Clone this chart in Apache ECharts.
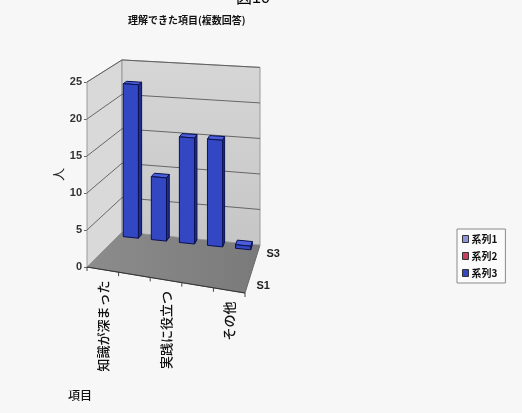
<!DOCTYPE html>
<html><head><meta charset="utf-8">
<script src="https://cdn.jsdelivr.net/npm/echarts@6/dist/echarts.min.js"></script>
<style>html,body{margin:0;padding:0;background:#f7f7f7}#c{width:522px;height:413px}</style>
</head><body><div id="c"></div>
<script>
// ---- data ----
const figureLabel = '図10';
const chartTitle = '理解できた項目(複数回答)';
const categories = ['知識が深まった', '興味がわいた', '実践に役立つ', '自信がついた', 'その他'];
const seriesNames = ['系列1', '系列2', '系列3'];
const depthLabels = ['S1', 'S2', 'S3'];
const series1Values = [null, null, null, null, null];
const series2Values = [null, null, null, null, null];
const series3Values = [22, 9, 15, 15, 0.5];
const yAxisName = '人';
const xAxisName = '項目';
const yMax = 25, yInterval = 5;

// ---- styling / projection (not data) ----
const JP = "'Noto Sans CJK JP','Noto Sans',sans-serif";
const NARROW = "'Liberation Sans Narrow','Liberation Sans',Arial,sans-serif";
const colors = ['#8f93d8', '#c8405e', '#3447c2'];
const FRONT_SLOPE = 26;
const DEPTH_L = [35, -35], DEPTH_R = [15, -48];
const HEIGHT_SCALE = {fl: 1.0, fr: 1.03, bl: 0.93, br: 0.96};

function makeProj(params, api) {
  const cs = params.coordSys;
  const bottom = cs.y + cs.height;
  return function (u, w, py) {
    const vfrac = (bottom - py) / cs.height;
    const fx = cs.x + u * cs.width, fy = bottom + u * FRONT_SLOPE;
    const dx = DEPTH_L[0] + (DEPTH_R[0] - DEPTH_L[0]) * u;
    const dy = DEPTH_L[1] + (DEPTH_R[1] - DEPTH_L[1]) * u;
    const hf = HEIGHT_SCALE.fl + (HEIGHT_SCALE.fr - HEIGHT_SCALE.fl) * u;
    const hb = HEIGHT_SCALE.bl + (HEIGHT_SCALE.br - HEIGHT_SCALE.bl) * u;
    const h = (hf + (hb - hf) * w) * cs.height;
    return [fx + w * dx, fy + w * dy - vfrac * h];
  };
}
function uOf(params, px) { const cs = params.coordSys; return (px - cs.x) / cs.width; }

function renderWalls(params, api) {
  const P = makeProj(params, api);
  const y0 = api.coord([0, 0])[1];
  const yTop = api.coord([0, yMax])[1];
  const ch = [];
  ch.push({type: 'polygon', shape: {points: [P(0,0,y0), P(0,1,y0), P(1,1,y0), P(1,0,y0)]},
    style: {fill: {type: 'linear', x: 0, y: 0, x2: 1, y2: 0,
      colorStops: [{offset: 0, color: '#8c8c8c'}, {offset: 1, color: '#7a7a7a'}]},
      stroke: '#6a6a6a', lineWidth: 1}});
  ch.push({type: 'polygon', shape: {points: [P(0,0,y0), P(0,0,yTop), P(0,1,yTop), P(0,1,y0)]},
    style: {fill: '#d9d9d9', stroke: '#9a9a9a', lineWidth: 1}});
  ch.push({type: 'polygon', shape: {points: [P(0,1,y0), P(0,1,yTop), P(1,1,yTop), P(1,1,y0)]},
    style: {fill: {type: 'linear', x: 0, y: 0, x2: 0, y2: 1,
      colorStops: [{offset: 0, color: '#d6d6d6'}, {offset: 1, color: '#c6c6c6'}]},
      stroke: '#9a9a9a', lineWidth: 1}});
  for (let v = yInterval; v <= yMax; v += yInterval) {
    const py = api.coord([0, v])[1];
    ch.push({type: 'polyline', shape: {points: [P(0,0,py), P(0,1,py), P(1,1,py)]},
      style: {stroke: '#5a5a5a', lineWidth: 0.9, fill: null}});
  }
  for (let k = 0; k <= categories.length; k++) {
    const u = k / categories.length;
    const a = P(u, 0, y0);
    ch.push({type: 'line', shape: {x1: a[0], y1: a[1], x2: a[0], y2: a[1] + 4},
      style: {stroke: '#444', lineWidth: 1}});
  }
  const a = P(0,0,y0), b = P(1,0,y0);
  ch.push({type: 'line', shape: {x1: a[0], y1: a[1], x2: b[0], y2: b[1]}, style: {stroke: '#333', lineWidth: 1}});
  depthLabels.forEach(function (t, k) {
    if (k % 2 === 1) return;
    const w = (k + 0.5) / depthLabels.length;
    const p = P(1, w, y0);
    ch.push({type: 'text', x: p[0] + 9, y: p[1] + 1,
      style: {text: t, fill: '#222', font: 'bold 11px ' + NARROW, align: 'left', verticalAlign: 'middle'}});
  });
  return {type: 'group', children: ch};
}

function makeBarRenderer(row) {
  return function (params, api) {
    const v = api.value(1);
    if (v == null || isNaN(v)) return null;
    const P = makeProj(params, api);
    const c = api.coord([api.value(0), v]);
    const y0 = api.coord([api.value(0), 0])[1];
    const band = api.size([1, 0])[0] / params.coordSys.width;
    const uc = uOf(params, c[0]) - 0.04 * band;
    const u0 = uc - 0.27 * band, u1 = uc + 0.27 * band;
    const wc = (row + 0.5) / seriesNames.length + 0.1;
    const wf = wc - 0.05, wb = wc + 0.05;
    const py = c[1];
    const stroke = '#0b1150';
    return {type: 'group', children: [
      {type: 'polygon', shape: {points: [P(u1,wf,y0), P(u1,wb,y0), P(u1,wb,py), P(u1,wf,py)]},
        style: {fill: '#1f2d8c', stroke: stroke, lineWidth: 1}},
      {type: 'polygon', shape: {points: [P(u0,wf,py), P(u1,wf,py), P(u1,wb,py), P(u0,wb,py)]},
        style: {fill: '#4a5edb', stroke: stroke, lineWidth: 1}},
      {type: 'polygon', shape: {points: [P(u0,wf,y0), P(u1,wf,y0), P(u1,wf,py), P(u0,wf,py)]},
        style: {fill: '#3447c2', stroke: stroke, lineWidth: 1}}
    ]};
  };
}

function renderCatLabel(params, api) {
  const i = api.value(0);
  if (i % 2 === 1) return null;
  const P = makeProj(params, api);
  const c = api.coord([i, 0]);
  const p = P(uOf(params, c[0]), 0, c[1]);
  return {type: 'text', x: p[0], y: p[1] + 11, rotation: Math.PI / 2,
    style: {text: categories[i], fill: '#111', font: '500 13px ' + JP, align: 'right', verticalAlign: 'middle'}};
}

const chart = echarts.init(document.getElementById('c'), null, {renderer: 'canvas'});
const toData = arr => arr.map((v, i) => [i, v]);
const barValues = [series1Values, series2Values, series3Values];

chart.setOption({
  backgroundColor: '#f7f7f7',
  animation: false,
  color: colors,
  title: {text: chartTitle, left: 123, top: 10,
    textStyle: {fontSize: 10, fontWeight: 'bold', color: '#111', fontFamily: JP}},
  legend: {data: seriesNames, orient: 'vertical', left: 457, top: 229,
    itemWidth: 6, itemHeight: 7, itemGap: 7, icon: 'rect',
    padding: [5, 8, 5, 5], borderColor: '#8a8a8a', borderWidth: 1, backgroundColor: '#fbfbfb',
    itemStyle: {borderColor: '#333', borderWidth: 1},
    textStyle: {fontSize: 10, fontWeight: 'bold', color: '#111', fontFamily: JP, padding: [0, 0, 0, -2]}},
  graphic: [
    {type: 'text', left: 236, top: -9, style: {text: figureLabel, fill: '#000', font: '16px ' + "'Liberation Sans'," + JP}},
    {type: 'text', left: 68, top: 389, style: {text: xAxisName, fill: '#111', font: '500 12px ' + JP}}
  ],
  grid: {left: 87, top: 82, width: 158, height: 185},
  xAxis: {type: 'category', data: categories, show: false},
  yAxis: {type: 'value', min: 0, max: yMax, interval: yInterval,
    name: yAxisName, nameLocation: 'middle', nameGap: 22,
    nameTextStyle: {fontSize: 13, color: '#222', fontFamily: JP},
    axisLine: {show: true, lineStyle: {color: '#8c8c8c'}},
    axisTick: {show: true, length: 3, lineStyle: {color: '#666'}},
    axisLabel: {fontSize: 11, fontWeight: 'bold', color: '#333', fontFamily: NARROW, margin: 5},
    splitLine: {show: false}},
  series: [
    {type: 'custom', name: '_walls', silent: true, z: 1, renderItem: renderWalls, data: [[0, 0]]},
    ...seriesNames.map((n, k) => ({type: 'custom', name: n, z: 3, renderItem: makeBarRenderer(k),
      itemStyle: {color: colors[k]}, data: toData(barValues[k])})),
    {type: 'custom', name: '_labels', silent: true, z: 4, renderItem: renderCatLabel,
      data: categories.map((c, i) => [i, 0])}
  ]
});
</script></body></html>
